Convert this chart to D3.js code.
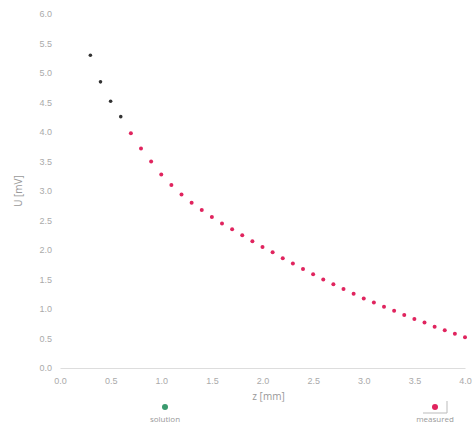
<!DOCTYPE html>
<html>
<head>
<meta charset="utf-8">
<script src="https://cdn.jsdelivr.net/npm/d3@7"></script>
<style>
  body { margin: 0; background: #fff; }
  svg { font-family: "Open Sans", sans-serif; }
</style>
</head>
<body>
<svg width="473" height="432"></svg>
<script>
// values
const solutionZ = [0.3, 0.4, 0.5, 0.6];
const solutionU = [5.30, 4.85, 4.52, 4.26];

const measuredZ = [0.7, 0.8, 0.9, 1.0, 1.1, 1.2, 1.3, 1.4, 1.5, 1.6, 1.7, 1.8, 1.9, 2.0,
                   2.1, 2.2, 2.3, 2.4, 2.5, 2.6, 2.7, 2.8, 2.9, 3.0, 3.1, 3.2, 3.3, 3.4,
                   3.5, 3.6, 3.7, 3.8, 3.9, 4.0];
const measuredU = [3.98, 3.72, 3.50, 3.28, 3.10, 2.94, 2.80, 2.68, 2.56, 2.45, 2.35, 2.25,
                   2.15, 2.05, 1.96, 1.86, 1.77, 1.68, 1.59, 1.50, 1.42, 1.34, 1.26, 1.18,
                   1.11, 1.04, 0.97, 0.90, 0.83, 0.77, 0.70, 0.64, 0.58, 0.52];

const xTicks = [0, 0.5, 1, 1.5, 2, 2.5, 3, 3.5, 4];
const yTicks = [0, 0.5, 1, 1.5, 2, 2.5, 3, 3.5, 4, 4.5, 5, 5.5, 6];

const legendNames = ['solution', 'measured'];
const legendColors = ['#3a9a6e', '#e0245e'];

function drawChart() {
    const svg = d3.select('svg');
    const left = 60, right = 465, top = 14, bottom = 368;

    const x = d3.scaleLinear().domain([0, 4]).range([left, right]);
    const y = d3.scaleLinear().domain([0, 6]).range([bottom, top]);

    // y axis
    const yAxis = svg.append('g')
        .attr('transform', `translate(${left},0)`)
        .call(d3.axisLeft(y).tickValues(yTicks).tickFormat(d3.format('.1f')).tickSize(0).tickPadding(8));
    yAxis.select('.domain').remove();
    yAxis.selectAll('text').attr('fill', '#aaa').style('font-size', '9px');

    // x axis
    const xAxis = svg.append('g')
        .attr('transform', `translate(0,${bottom})`)
        .call(d3.axisBottom(x).tickValues(xTicks).tickFormat(d3.format('.1f')).tickSize(0).tickPadding(10));
    xAxis.select('.domain').attr('stroke', '#ddd');
    xAxis.selectAll('text').attr('fill', '#aaa').style('font-size', '9px');

    // axis titles
    svg.append('text')
        .attr('x', (left + right) / 2 + 6)
        .attr('y', 400)
        .attr('text-anchor', 'middle')
        .attr('fill', '#999')
        .style('font-size', '10px')
        .text('z [mm]');

    svg.append('text')
        .attr('transform', `translate(22,${(top + bottom) / 2}) rotate(-90)`)
        .attr('text-anchor', 'middle')
        .attr('fill', '#999')
        .style('font-size', '10px')
        .text('U [mV]');

    // solution points
    svg.append('g').selectAll('circle')
        .data(solutionZ.map((z, i) => ({z: z, u: solutionU[i]})))
        .join('circle')
        .attr('cx', d => x(d.z))
        .attr('cy', d => y(d.u))
        .attr('r', 1.8)
        .attr('fill', '#333');

    // measured points
    svg.append('g').selectAll('circle')
        .data(measuredZ.map((z, i) => ({z: z, u: measuredU[i]})))
        .join('circle')
        .attr('cx', d => x(d.z))
        .attr('cy', d => y(d.u))
        .attr('r', 2)
        .attr('fill', '#e0245e');

    // legend
    const legendX = [165, 435];
    const legend = svg.append('g').selectAll('g')
        .data(legendNames)
        .join('g')
        .attr('transform', (d, i) => `translate(${legendX[i]},407)`);

    legend.append('circle')
        .attr('r', 3)
        .attr('fill', (d, i) => legendColors[i]);

    legend.append('text')
        .attr('y', 15)
        .attr('text-anchor', 'middle')
        .attr('fill', '#999')
        .style('font-size', '8px')
        .text(d => d);

    // focus marks beside the active legend entry
    legend.filter((d, i) => i === 1).append('path')
        .attr('d', 'M-12,6H12V-6')
        .attr('fill', 'none')
        .attr('stroke', '#bbb')
        .attr('stroke-width', 1);
}

drawChart();
</script>
</body>
</html>
